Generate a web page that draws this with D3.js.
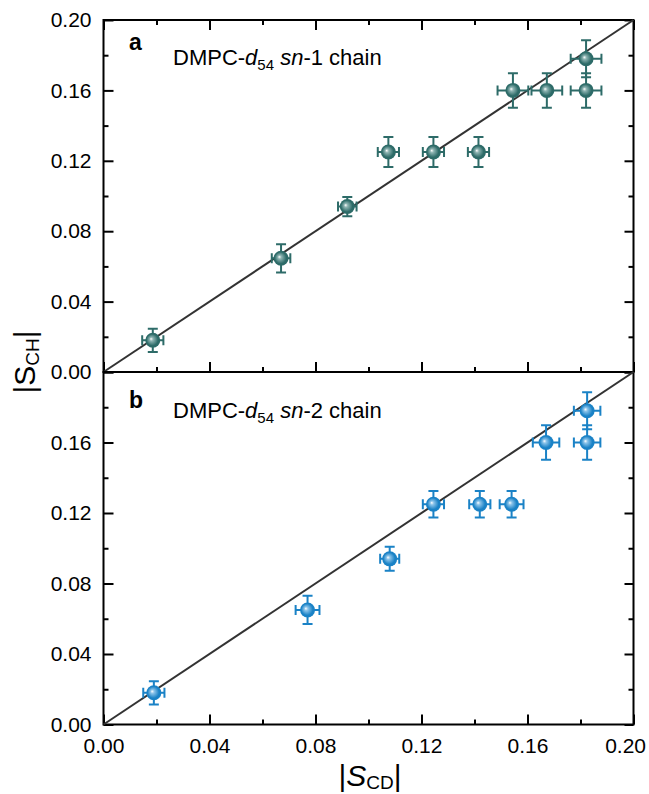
<!DOCTYPE html>
<html lang="en">
<head>
<meta charset="UTF-8">
<title>DMPC order parameters</title>
<script src="https://d3js.org/d3.v7.min.js"></script>
<style>
  body { margin: 0; background: #fff; font-family: Arial, "Liberation Sans", sans-serif; }
  .tick line { stroke: #000; stroke-width: 2; }
</style>
</head>
<body>
<div id="chart"></div>
<script>
// sn-1 chain (panel a)
const sn1X    = [0.0186, 0.067, 0.092, 0.1075, 0.1245, 0.1415, 0.1545, 0.1673, 0.1821, 0.1821];
const sn1Y    = [0.018, 0.0646, 0.094, 0.125, 0.125, 0.125, 0.160, 0.160, 0.160, 0.178];
const sn1Xerr = [0.004, 0.0035, 0.0035, 0.004, 0.004, 0.004, 0.0058, 0.0058, 0.0058, 0.0058];
const sn1Yerr = [0.0066, 0.008, 0.0055, 0.0085, 0.0085, 0.0085, 0.0098, 0.0098, 0.0098, 0.0105];

// sn-2 chain (panel b)
const sn2X    = [0.019, 0.077, 0.108, 0.1245, 0.142, 0.154, 0.167, 0.1825, 0.1825];
const sn2Y    = [0.018, 0.065, 0.094, 0.125, 0.125, 0.125, 0.160, 0.160, 0.178];
const sn2Xerr = [0.004, 0.0045, 0.0036, 0.004, 0.004, 0.0045, 0.005, 0.005, 0.005];
const sn2Yerr = [0.0066, 0.008, 0.0068, 0.0075, 0.0075, 0.0075, 0.0098, 0.0098, 0.0105];

const majorTicks = [0, 0.04, 0.08, 0.12, 0.16, 0.20];
const minorTicks = [0.02, 0.06, 0.10, 0.14, 0.18];
const labelsA = [0, 0.04, 0.08, 0.12, 0.16, 0.20];
const labelsB = [0, 0.04, 0.08, 0.12, 0.16];

const W = 649, H = 794;
const FONT = "Arial, 'Liberation Sans', sans-serif";
const svg = d3.select("#chart").append("svg").attr("width", W).attr("height", H)
  .attr("font-family", FONT);

const defs = svg.append("defs");
function sphere(id, light, base) {
  const g = defs.append("radialGradient").attr("id", id)
    .attr("cx", "50%").attr("cy", "50%").attr("r", "55%")
    .attr("fx", "38%").attr("fy", "40%");
  g.append("stop").attr("offset", "0%").attr("stop-color", "#ffffff");
  g.append("stop").attr("offset", "22%").attr("stop-color", light);
  g.append("stop").attr("offset", "70%").attr("stop-color", base);
  g.append("stop").attr("offset", "100%").attr("stop-color", base);
}
sphere("gradA", "#8fb5b3", "#2d6b68");
sphere("gradB", "#8cc4ea", "#1a82c6");

const x = d3.scaleLinear().domain([0, 0.2]).range([103.5, 633.5]);
const yA = d3.scaleLinear().domain([0, 0.2]).range([372, 20]);
const yB = d3.scaleLinear().domain([0, 0.2]).range([724.5, 372]);
const fmt = d3.format(".2f");

function styleAxis(a) {
  a.select(".domain").remove();
  a.attr("font-family", FONT).attr("font-size", 21);
  a.selectAll(".tick text").attr("fill", "#000");
}

function panel(y, xs, ys, xe, ye, color, grad, letter, chainNo, showTop, yLabels, showXLabels, textY) {
  const top = y(0.2), bot = y(0);
  const g = svg.append("g");

  // left axis
  g.append("g").attr("transform", `translate(${x(0)},0)`)
    .call(d3.axisLeft(y).tickValues(majorTicks).tickSizeInner(-10).tickSizeOuter(0).tickPadding(12)
      .tickFormat(d => yLabels.some(v => Math.abs(v - d) < 1e-9) ? fmt(d) : ""))
    .call(styleAxis);
  g.append("g").attr("transform", `translate(${x(0)},0)`)
    .call(d3.axisLeft(y).tickValues(minorTicks).tickSize(-5).tickFormat(""))
    .call(styleAxis);
  // right axis
  g.append("g").attr("transform", `translate(${x(0.2)},0)`)
    .call(d3.axisRight(y).tickValues(majorTicks).tickSize(-9).tickFormat(""))
    .call(styleAxis);
  g.append("g").attr("transform", `translate(${x(0.2)},0)`)
    .call(d3.axisRight(y).tickValues(minorTicks).tickSize(-5).tickFormat(""))
    .call(styleAxis);
  // bottom axis
  g.append("g").attr("transform", `translate(0,${bot})`)
    .call(d3.axisBottom(x).tickValues(majorTicks).tickSizeInner(-10).tickSizeOuter(0).tickPadding(14)
      .tickFormat(d => showXLabels ? fmt(d) : ""))
    .call(styleAxis)
    .call(a => a.selectAll(".tick text").filter(d => d === 0.2).attr("text-anchor", "end").attr("dx", 12));
  g.append("g").attr("transform", `translate(0,${bot})`)
    .call(d3.axisBottom(x).tickValues(minorTicks).tickSize(-5).tickFormat(""))
    .call(styleAxis);
  if (showTop) {
    g.append("g").attr("transform", `translate(0,${top})`)
      .call(d3.axisTop(x).tickValues(majorTicks).tickSize(-10).tickFormat(""))
      .call(styleAxis);
    g.append("g").attr("transform", `translate(0,${top})`)
      .call(d3.axisTop(x).tickValues(minorTicks).tickSize(-5).tickFormat(""))
      .call(styleAxis);
  }

  // frame
  g.append("rect").attr("x", x(0)).attr("y", top)
    .attr("width", x(0.2) - x(0)).attr("height", bot - top)
    .attr("fill", "none").attr("stroke", "#000").attr("stroke-width", 2);

  // identity line
  g.append("line")
    .attr("x1", x(0)).attr("y1", y(0)).attr("x2", x(0.2)).attr("y2", y(0.2))
    .attr("stroke", "#333").attr("stroke-width", 2);

  const data = xs.map((v, i) => ({ x: v, y: ys[i], xe: xe[i], ye: ye[i] }));
  const cap = 5;
  const pts = g.selectAll(".pt").data(data).enter().append("g").attr("class", "pt");
  pts.append("path")
    .attr("d", d => {
      const cx = x(d.x), cy = y(d.y);
      const x0 = x(d.x - d.xe), x1 = x(d.x + d.xe);
      const y0 = y(d.y - d.ye), y1 = y(d.y + d.ye);
      return `M${x0},${cy}H${x1}M${x0},${cy - cap}V${cy + cap}M${x1},${cy - cap}V${cy + cap}` +
             `M${cx},${y0}V${y1}M${cx - cap},${y0}H${cx + cap}M${cx - cap},${y1}H${cx + cap}`;
    })
    .attr("fill", "none").attr("stroke", color).attr("stroke-width", 2);
  pts.append("circle")
    .attr("cx", d => x(d.x)).attr("cy", d => y(d.y)).attr("r", 7.5)
    .attr("fill", `url(#${grad})`);

  // panel letter and title
  g.append("text").attr("x", 129).attr("y", top + textY[0])
    .attr("font-size", 23).attr("font-weight", "bold").text(letter);
  const t = g.append("text").attr("x", 173).attr("y", top + textY[1]).attr("font-size", 22);
  t.append("tspan").text("DMPC-");
  t.append("tspan").attr("font-style", "italic").text("d");
  t.append("tspan").attr("font-size", 15).attr("dy", 5).text("54");
  t.append("tspan").attr("dy", -5).text(" ");
  t.append("tspan").attr("font-style", "italic").text("sn");
  t.append("tspan").text("-" + chainNo + " chain");
}

panel(yA, sn1X, sn1Y, sn1Xerr, sn1Yerr, "#2d6b68", "gradA", "a", 1, true, labelsA, false, [30, 45]);
panel(yB, sn2X, sn2Y, sn2Xerr, sn2Yerr, "#1a82c6", "gradB", "b", 2, false, labelsB, true, [36, 46]);

// axis titles
const xt = svg.append("text").attr("x", 370).attr("y", 786)
  .attr("text-anchor", "middle").attr("font-size", 30);
xt.append("tspan").text("|");
xt.append("tspan").attr("font-style", "italic").text("S");
xt.append("tspan").attr("font-size", 19).attr("dy", 3).text("CD");
xt.append("tspan").attr("dy", -3).text("|");

const yt = svg.append("text").attr("transform", "translate(35,362) rotate(-90)")
  .attr("text-anchor", "middle").attr("font-size", 30);
yt.append("tspan").text("|S");
yt.append("tspan").attr("font-size", 19).attr("dy", 4).text("CH");
yt.append("tspan").attr("dy", -4).text("|");
</script>
</body>
</html>
